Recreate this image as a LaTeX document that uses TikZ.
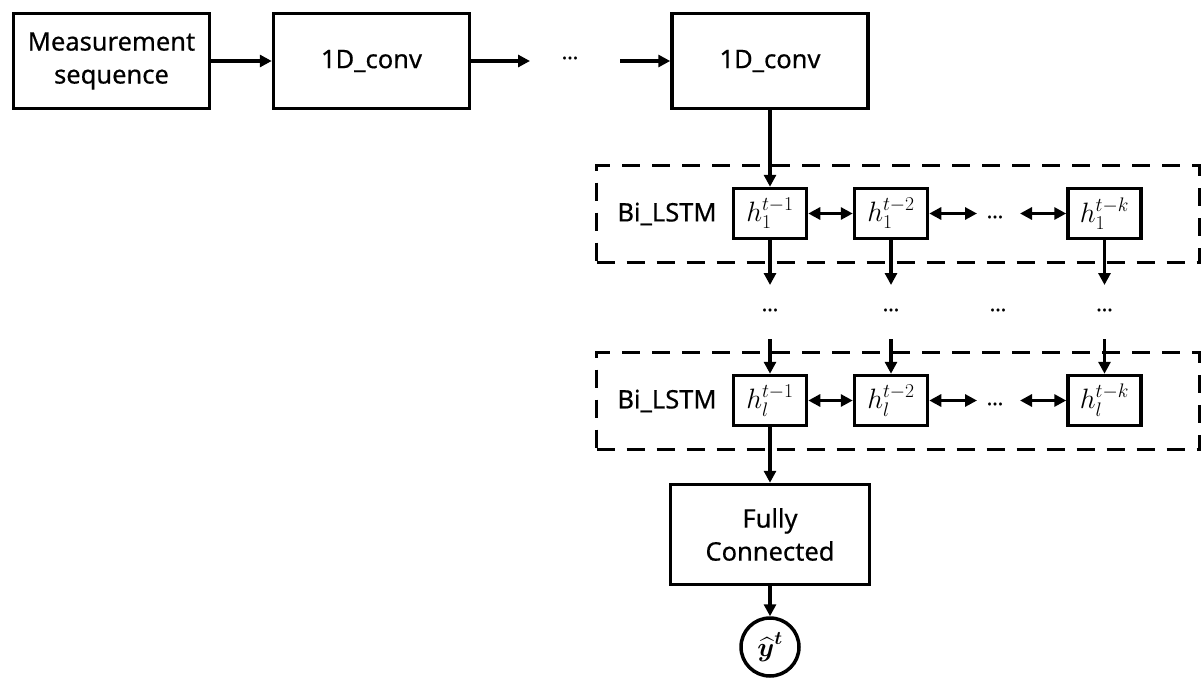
\RequirePackage{fix-cm}
\documentclass[tikz,border=0pt]{standalone}
\usepackage{amsmath}
\usepackage{fontspec}
\setmainfont{Noto Sans}[FakeBold=0.5]
\usetikzlibrary{arrows.meta}

\begin{document}
\begin{tikzpicture}[x=1pt,y=-1pt,
  box/.style={draw, line width=3.5pt, minimum width=196pt, minimum height=95pt, align=center, inner sep=0pt, font=\fontsize{25.5}{33}\selectfont},
  hbox/.style={draw, line width=3.5pt, minimum width=73pt, minimum height=50pt, inner sep=0pt, font=\fontsize{28}{32}\selectfont},
  dbox/.style={draw, line width=3.5pt, dash pattern=on 18pt off 12pt, minimum width=603pt, minimum height=97pt, inner sep=0pt},
  arr/.style={line width=3.5pt, -{Triangle[length=12pt,width=12pt]}},
  darr/.style={line width=3.5pt, {Triangle[length=12pt,width=12pt]}-{Triangle[length=12pt,width=12pt]}},
  lbl/.style={font=\fontsize{25.5}{30}\selectfont, inner sep=0pt},
  dotsnode/.style={font=\fontsize{21}{24}\selectfont, inner sep=0pt}
]
\useasboundingbox (0,0) rectangle (1203,680);

% top row
\node[box] (m) at (111.5,61) {Measurement\\sequence};
\node[box] (c1) at (371.5,61) {1D\_conv};
\node[box] (c2) at (770,61) {1D\_conv};
\node[dotsnode] (d0) at (570,58) {…};
\coordinate (e0) at (530,61);
\coordinate (s0) at (620,61);
\draw[arr] (m.east) -- (c1.west);
\draw[arr] (c1.east) -- (e0);
\draw[arr] (s0) -- (c2.west);

% first Bi_LSTM layer
\node[dbox] (L1) at (898,214) {};
\node[lbl] (b1) at (667,214) {Bi\_LSTM};
\node[hbox] (h11) at (770,213.5) {$h_1^{t-1}$};
\node[hbox] (h12) at (891,213.5) {$h_1^{t-2}$};
\node[hbox] (h1k) at (1104.5,213.5) {$h_1^{t-k}$};
\node[dotsnode] (d1) at (995,217) {…};
\coordinate (e1) at (977,213.5);
\coordinate (s1) at (1020,213.5);
\draw[arr] (c2.south) -- (h11.north);
\draw[darr] (h11.east) -- (h12.west);
\draw[darr] (h12.east) -- (e1);
\draw[darr] (s1) -- (h1k.west);

% middle dots
\node[dotsnode] (v1) at (770,310) {…};
\node[dotsnode] (v2) at (891,310) {…};
\node[dotsnode] (v3) at (998,310) {…};
\node[dotsnode] (v4) at (1104.5,310) {…};
\coordinate (t1) at (770,285);
\coordinate (t2) at (891,285);
\coordinate (t3) at (1104.5,285);
\coordinate (u1) at (770,339);
\coordinate (u2) at (891,339);
\coordinate (u3) at (1104.5,339);
\draw[arr] (h11.south) -- (t1);
\draw[arr] (h12.south) -- (t2);
\draw[arr] (h1k.south) -- (t3);

% second Bi_LSTM layer
\node[dbox] (L2) at (898,401) {};
\node[lbl] (b2) at (667,401) {Bi\_LSTM};
\node[hbox] (hl1) at (770,400.5) {$h_l^{t-1}$};
\node[hbox] (hl2) at (891,400.5) {$h_l^{t-2}$};
\node[hbox] (hlk) at (1104.5,400.5) {$h_l^{t-k}$};
\node[dotsnode] (d2) at (995,404) {…};
\coordinate (e2) at (977,400.5);
\coordinate (s2) at (1020,400.5);
\draw[arr] (u1) -- (hl1.north);
\draw[arr] (u2) -- (hl2.north);
\draw[arr] (u3) -- (hlk.north);
\draw[darr] (hl1.east) -- (hl2.west);
\draw[darr] (hl2.east) -- (e2);
\draw[darr] (s2) -- (hlk.west);

% output
\node[box, minimum width=199pt, minimum height=100pt] (fc) at (770,534.5) {Fully\\Connected};
\node[draw, circle, line width=3.5pt, minimum size=58pt, inner sep=0pt, font=\fontsize{27}{30}\selectfont] (y) at (770,647) {$\boldsymbol{\widehat{y}}^{\boldsymbol{t}}$};
\draw[arr] (hl1.south) -- (fc.north);
\draw[arr] (fc.south) -- (y.north);
\end{tikzpicture}
\end{document}
